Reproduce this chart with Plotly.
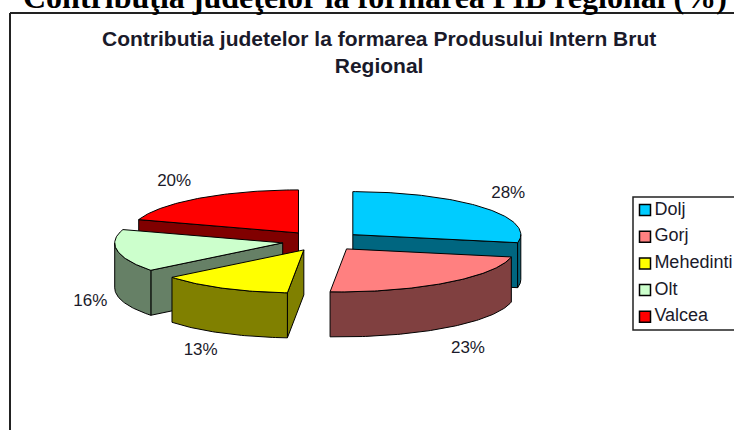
import math
import plotly.graph_objects as go

# ---- data ----
categories = ["Dolj", "Gorj", "Mehedinti", "Olt", "Valcea"]
values = [28, 23, 13, 16, 20]
top_colors = ["#00CCFF", "#FF8080", "#FFFF00", "#CCFFCC", "#FF0000"]
side_colors = ["#006680", "#804040", "#808000", "#668066", "#800000"]
page_title = "Contribuţia judeţelor la formarea PIB regional (%)"
chart_title = "Contributia judetelor la formarea Produsului Intern Brut<br>Regional"

# ---- pie geometry, in pixels of the 734x430 canvas ----
CX, CY = 322, 241
RX, RY = 168, 43
DEPTH = 45
EXPLODE_X, EXPLODE_Y = 40, 10
PERSPECTIVE = 0.0032
LABEL_RX, LABEL_RY = 203, 64
LABEL_NUDGE = [(-1, 0), (-3, 4), (-11, -1), (7, 2), (-5, 1)]
INK = "#000000"
TEXT = "#1a1a2a"
FONT = "Liberation Sans"

total = sum(values)


def pt(ax, ay, deg, dy=0):
    r = math.radians(deg)
    off = -RY * math.cos(r)
    skew = PERSPECTIVE * off * off if off > 0 else 0
    return ax + RX * math.sin(r) - skew, ay + off + dy


def arc(ax, ay, a0, a1, dy=0):
    n = max(2, int(abs(a1 - a0)))
    return [pt(ax, ay, a0 + (a1 - a0) * i / n, dy) for i in range(n + 1)]


def poly(points, color):
    xs = [p[0] for p in points] + [points[0][0]]
    ys = [p[1] for p in points] + [points[0][1]]
    return go.Scatter(x=xs, y=ys, mode="lines", fill="toself", fillcolor=color,
                      line=dict(color=INK, width=1), hoverinfo="skip", showlegend=False)


slices = []
angle = 0.0
for i, v in enumerate(values):
    a0, a1 = angle, angle + 360.0 * v / total
    angle = a1
    mid = math.radians((a0 + a1) / 2)
    ax = CX + EXPLODE_X * math.sin(mid)
    ay = CY - EXPLODE_Y * math.cos(mid)
    slices.append(dict(i=i, a0=a0, a1=a1, mid=mid, ax=ax, ay=ay))

fig = go.Figure()
# painter's order: back slices first
for s in sorted(slices, key=lambda s: -math.cos(s["mid"])):
    i, a0, a1, ax, ay = s["i"], s["a0"], s["a1"], s["ax"], s["ay"]
    side, top = side_colors[i], top_colors[i]
    for deg, seen in ((a0, math.sin(math.radians(a0)) < -1e-6),
                      (a1, math.sin(math.radians(a1)) > 1e-6)):
        if seen:
            p = pt(ax, ay, deg)
            fig.add_trace(poly([(ax, ay), p, (p[0], p[1] + DEPTH), (ax, ay + DEPTH)], side))
    f0, f1 = max(a0, 90), min(a1, 270)
    if f1 > f0:
        outer = arc(ax, ay, f0, f1)
        fig.add_trace(poly(outer + arc(ax, ay, f1, f0, DEPTH), side))
    fig.add_trace(poly([(ax, ay)] + arc(ax, ay, a0, a1), top))

# percentage labels
lx, ly, lt = [], [], []
for s in slices:
    c = math.cos(s["mid"])
    nx, ny = LABEL_NUDGE[s["i"]]
    lx.append(s["ax"] + LABEL_RX * math.sin(s["mid"]) + nx)
    ly.append(s["ay"] - LABEL_RY * c + (DEPTH if c < 0 else 0) + ny)
    lt.append(f"{round(100 * values[s['i']] / total)}%")
fig.add_trace(go.Scatter(x=lx, y=ly, mode="text", text=lt, textposition="middle center",
                         textfont=dict(family=FONT, size=17, color=TEXT),
                         hoverinfo="skip", showlegend=False))

# legend keys and names
LEG_X, LEG_Y0, LEG_DY = 645, 210, 26.7
fig.add_trace(go.Scatter(
    x=[LEG_X] * len(categories), y=[LEG_Y0 + LEG_DY * k for k in range(len(categories))],
    mode="markers+text", text=["\u200a" + c for c in categories], textposition="middle right",
    textfont=dict(family=FONT, size=18, color=TEXT),
    marker=dict(symbol="square", size=11, color=top_colors, line=dict(color=INK, width=1.5)),
    hoverinfo="skip", showlegend=False, cliponaxis=False))

fig.update_layout(
    width=734, height=430, autosize=False, margin=dict(l=0, r=0, t=0, b=0),
    paper_bgcolor="white", plot_bgcolor="white", showlegend=False,
    xaxis=dict(range=[0, 734], visible=False, fixedrange=True),
    yaxis=dict(range=[430, 0], visible=False, fixedrange=True),
    shapes=[
        dict(type="line", xref="x", yref="y", x0=10, x1=10, y0=13, y1=430, line=dict(color="#222222", width=2)),
        dict(type="line", xref="x", yref="y", x0=10, x1=734, y0=13, y1=13, line=dict(color="#222222", width=2)),
        dict(type="rect", xref="x", yref="y", x0=633, x1=745, y0=197, y1=330, line=dict(color="#222222", width=1.5)),
    ],
    annotations=[
        dict(text="<b>" + chart_title.replace("<br>", "</b><br><b>") + "</b>", x=379, y=52, xref="x", yref="y",
             showarrow=False, align="center", xanchor="center", yanchor="middle",
             font=dict(family=FONT, size=21, color=TEXT)),
        dict(text="<b>" + page_title + "</b>", x=375, y=0, xref="x", yref="y", showarrow=False,
             xanchor="center", yanchor="middle", yshift=3,
             font=dict(family="Liberation Serif", size=32, color="#000000")),
    ],
)
fig.write_html("out.html", config=dict(displayModeBar=False),
               post_script="document.body.style.margin='0';document.body.style.overflow='hidden';")
